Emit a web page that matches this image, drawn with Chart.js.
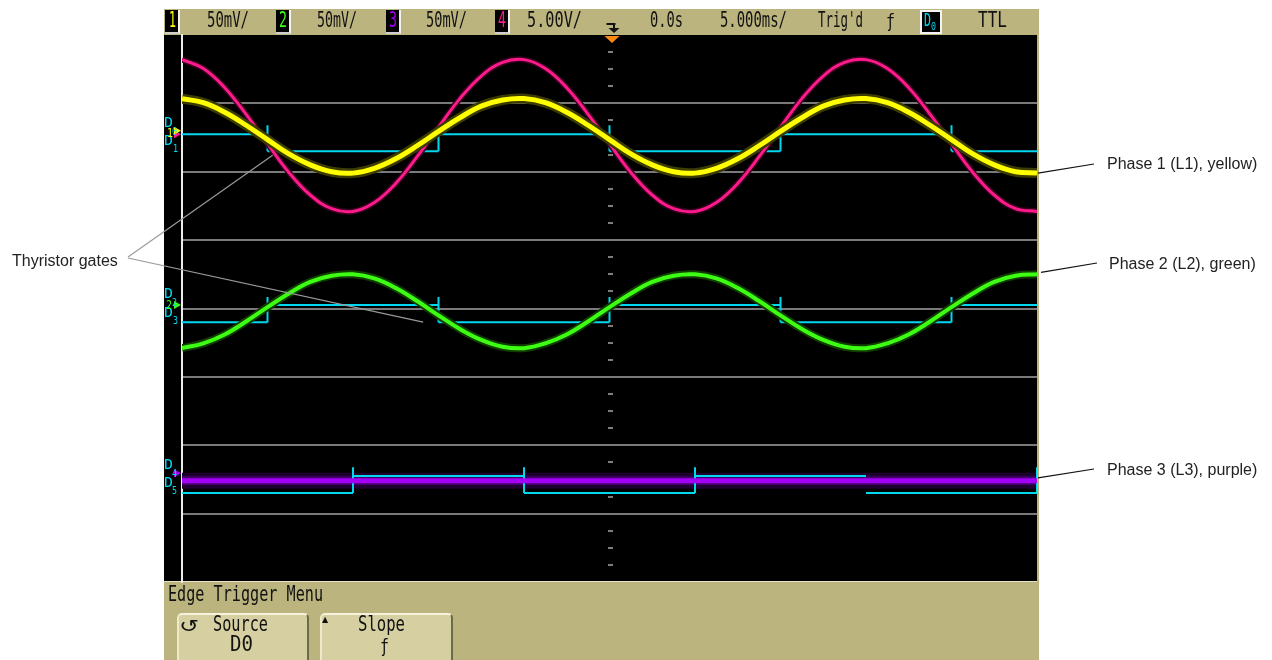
<!DOCTYPE html>
<html>
<head>
<meta charset="utf-8">
<title>Thyristor gates - scope capture</title>
<script src="https://cdn.jsdelivr.net/npm/chart.js@4.4.1/dist/chart.umd.min.js"></script>
<style>
  html, body { margin: 0; padding: 0; background: #fff; }
  #page { position: relative; width: 1272px; height: 660px; overflow: hidden; }
  .blk { position: absolute; }
  #frame { left: 164px; top: 9px; width: 875px; height: 651px; background: #bcb47f; }
  #screen { left: 164px; top: 35px; width: 873px; height: 546px; background: #000; }
  #menuLine { left: 164px; top: 581px; width: 873px; height: 1px; background: #e6e1c2; }
  .chip { position: absolute; top: 10px; width: 15px; height: 24px; background: #000; box-sizing: border-box;
          border-right: 2px solid #f2f2f2; border-bottom: 2px solid #cfcfcf; }
  .btn { position: absolute; top: 613px; height: 52px; background: #d6cfa1; box-sizing: border-box;
         border-top: 2px solid #f6f2dc; border-left: 2px solid #efe9cc; border-right: 2px solid #6e6948;
         border-radius: 5px 5px 0 0; }
  canvas { position: absolute; left: 0; top: 0; }
  .lcd { position: absolute; font-family: "DejaVu Sans Mono", monospace; white-space: nowrap; line-height: 1; color: #111; }
  .note { position: absolute; font-family: "Liberation Sans", Arial, sans-serif; font-size: 16px; line-height: 16px;
          color: #222; white-space: nowrap; }
</style>
</head>
<body>
<div id="page">
  <div id="frame" class="blk"></div>
  <div id="screen" class="blk"></div>
  <div id="menuLine" class="blk"></div>
  <div class="chip" style="left:165px"></div>
  <div class="chip" style="left:276px"></div>
  <div class="chip" style="left:386px"></div>
  <div class="chip" style="left:495px"></div>
  <div class="chip" style="left:920px;width:22px;border:2px solid #f4f4f4"></div>
  <div class="btn" style="left:177px;width:132px"></div>
  <div class="btn" style="left:320px;width:133px"></div>
  <canvas id="scope" width="1272" height="660"></canvas>
</div>
<script>
// time axis: 5 ms/div, 10 divisions, trigger at 0
var sampleTimes = [-25, -23.75, -22.5, -21.25, -20, -18.75, -17.5, -16.25, -15, -13.75, -12.5, -11.25,
  -10, -8.75, -7.5, -6.25, -5, -3.75, -2.5, -1.25, 0, 1.25, 2.5, 3.75, 5, 6.25, 7.5, 8.75,
  10, 11.25, 12.5, 13.75, 15, 16.25, 17.5, 18.75, 20, 21.25, 22.5, 23.75, 25]

// analog traces, in screen divisions (centre line = 0)
var ch1Yellow = [3.07, 3.01, 2.87, 2.68, 2.47, 2.26, 2.10, 2.00, 1.98, 2.05, 2.19, 2.38, 2.59, 2.79, 2.96, 3.05,
  3.07, 3.01, 2.87, 2.68, 2.47, 2.26, 2.10, 2.00, 1.98, 2.05, 2.19, 2.38, 2.59, 2.79, 2.96, 3.05,
  3.07, 3.01, 2.87, 2.68, 2.47, 2.26, 2.10, 2.00, 1.98]
var ch4Pink = [3.64, 3.51, 3.23, 2.84, 2.41, 1.99, 1.66, 1.46, 1.42, 1.55, 1.83, 2.22, 2.65, 3.07, 3.40, 3.60,
  3.64, 3.51, 3.23, 2.84, 2.41, 1.99, 1.66, 1.46, 1.42, 1.55, 1.83, 2.22, 2.65, 3.07, 3.40, 3.60,
  3.64, 3.51, 3.23, 2.84, 2.41, 1.99, 1.66, 1.46, 1.42]
var ch2Green = [-0.58, -0.51, -0.38, -0.19, 0.02, 0.22, 0.39, 0.48, 0.50, 0.44, 0.30, 0.11, -0.10, -0.30, -0.46, -0.56,
  -0.58, -0.51, -0.38, -0.19, 0.02, 0.22, 0.39, 0.48, 0.50, 0.44, 0.30, 0.11, -0.10, -0.30, -0.46, -0.56,
  -0.58, -0.51, -0.38, -0.19, 0.02, 0.22, 0.39, 0.48, 0.50]
var ch3Times = [-25, -12.5, 0, 12.5, 25]
var ch3Purple = [-2.52, -2.52, -2.52, -2.52, -2.52]

// digital gate channels: edge times (ms) and logic states between them
var gateEdgesA = [-25, -20, -10, 0, 10, 20, 25]
var gateD0 = [1, 0, 1, 0, 1, 0]
var gateD2 = [0, 1, 0, 1, 0, 1]
var gatePulsesA = [-20, -10, 0, 10, 20]
var gateEdgesB = [-25, -15, -5, 5, 15, 25]
var gateD4 = [0, 1, 0, 1, 0]
var gatePulsesB = [-15, -5, 5, 25]

// digital channel display levels (divisions): low, high, pulse top
var d0Level = [2.30, 2.55, 2.68]
var d2Level = [-0.20, 0.05, 0.17]
var d4Level = [-2.70, -2.45, -2.32]

// channel ground markers (divisions)
var markerLevels = { ch1: 2.60, ch4: 2.55, ch2: 0.05, ch3: -2.41 }

var page = document.getElementById('page')

function series(times, values) {
  return values.map(function(v, i) {
    return { x: times[i], y: v }
  })
}

function gateTrace(edges, states, pulses, level) {
  var pts = []
  states.forEach(function(s, i) {
    var y = s ? level[1] : level[0]
    pts.push({ x: edges[i], y: y }, { x: edges[i + 1], y: y }, { x: edges[i + 1], y: null })
  })
  pulses.forEach(function(t) {
    pts.push({ x: t, y: level[0] }, { x: t, y: level[2] }, { x: t, y: null })
  })
  return pts
}

function trace(label, data, color, width, order, tension) {
  return {
    label: label,
    data: data,
    borderColor: color,
    borderWidth: width,
    order: order,
    tension: tension,
    spanGaps: false,
    fill: false
  }
}

// decorations: centre graticule ticks, trigger markers, ground markers, callout lines
var scopeDecor = {
  id: 'scopeDecor',
  beforeDatasetsDraw: function(chart) {
    var ctx = chart.ctx, xs = chart.scales.x, ys = chart.scales.y
    var x0 = xs.getPixelForValue(0)
    ctx.save()
    ctx.fillStyle = '#7d7d7d'
    for (var v = -3.75; v < 4; v += 0.25) {
      if (v % 1 === 0) continue
      ctx.fillRect(Math.round(x0) - 2, Math.round(ys.getPixelForValue(v)) - 1, 5, 2)
    }
    ctx.restore()
  },
  afterDraw: function(chart) {
    var ctx = chart.ctx, xs = chart.scales.x, ys = chart.scales.y
    var x0 = xs.getPixelForValue(0)
    var xr = xs.getPixelForValue(25)
    ctx.save()

    // orange trigger-position marker
    ctx.fillStyle = '#ff8a12'
    ctx.beginPath()
    ctx.moveTo(x0 - 5, 36)
    ctx.lineTo(x0 + 10, 36)
    ctx.lineTo(x0 + 2.5, 43)
    ctx.closePath()
    ctx.fill()

    // trigger icon in the status bar
    ctx.fillStyle = '#111'
    ctx.fillRect(x0 - 3, 23, 9, 2)
    ctx.fillRect(x0 + 3.5, 23, 2, 8)
    ctx.beginPath()
    ctx.moveTo(x0 - 1, 28)
    ctx.lineTo(x0 + 10, 28)
    ctx.lineTo(x0 + 4.5, 33)
    ctx.closePath()
    ctx.fill()

    // ground markers
    function marker(level, color) {
      var py = ys.getPixelForValue(level)
      ctx.fillStyle = color
      ctx.beginPath()
      ctx.moveTo(174, py - 4)
      ctx.lineTo(174, py + 4)
      ctx.lineTo(181, py)
      ctx.closePath()
      ctx.fill()
    }
    marker(markerLevels.ch4, '#ff1a8c')
    marker(markerLevels.ch1, '#ffff00')
    marker(markerLevels.ch2, '#3cff14')
    marker(markerLevels.ch3, '#a300f5')

    // callouts
    ctx.lineWidth = 1.2
    ctx.strokeStyle = '#111'
    function line(ax, ay, bx, by) {
      ctx.beginPath()
      ctx.moveTo(ax, ay)
      ctx.lineTo(bx, by)
      ctx.stroke()
    }
    line(xr + 1, ys.getPixelForValue(ch1Yellow[ch1Yellow.length - 1]), 1094, 164)
    line(xr + 4, ys.getPixelForValue(ch2Green[ch2Green.length - 1]) - 2, 1097, 263)
    line(xr + 1, ys.getPixelForValue(ch3Purple[ch3Purple.length - 1]) - 3, 1094, 469)

    ctx.strokeStyle = '#9a9a9a'
    line(128, 257, xs.getPixelForValue(-19.7), ys.getPixelForValue(2.24))
    line(128, 258, xs.getPixelForValue(-10.9), ys.getPixelForValue(-0.2))
    ctx.restore()
  }
}

new Chart(document.getElementById('scope'), {
  type: 'line',
  data: {
    datasets: [
      trace('Ch1', series(sampleTimes, ch1Yellow), '#ffff00', 5, 0, 0.4),
      trace('Ch1 noise', series(sampleTimes, ch1Yellow), '#3c3c00', 10, 1, 0.4),
      trace('Ch4', series(sampleTimes, ch4Pink), '#ff1a8c', 3, 2, 0.4),
      trace('Ch4 noise', series(sampleTimes, ch4Pink), '#3a001f', 6, 3, 0.4),
      trace('Ch2', series(sampleTimes, ch2Green), '#3cff14', 4, 4, 0.4),
      trace('Ch2 noise', series(sampleTimes, ch2Green), '#113d00', 8, 5, 0.4),
      trace('Ch3', series(ch3Times, ch3Purple), '#a300f5', 5, 6, 0),
      trace('D0/D1', gateTrace(gateEdgesA, gateD0, gatePulsesA, d0Level), '#00d8f0', 2, 7, 0),
      trace('D2/D3', gateTrace(gateEdgesA, gateD2, gatePulsesA, d2Level), '#00d8f0', 2, 7, 0),
      trace('D4/D5', gateTrace(gateEdgesB, gateD4, gatePulsesB, d4Level), '#00d8f0', 2, 7, 0),
      trace('Ch3 noise', series(ch3Times, ch3Purple), '#43006a', 9, 8, 0),
      trace('Ch3 noise wide', series(ch3Times, ch3Purple), '#1e002e', 16, 9, 0)
    ]
  },
  options: {
    responsive: false,
    animation: false,
    devicePixelRatio: 1,
    layout: { padding: { left: 182, top: 35, right: 235, bottom: 78 } },
    plugins: { legend: { display: false }, tooltip: { enabled: false } },
    elements: { point: { radius: 0 } },
    scales: {
      x: { type: 'linear', min: -25, max: 25, display: false },
      y: {
        min: -4,
        max: 4,
        ticks: { display: false, stepSize: 1 },
        grid: {
          drawTicks: false,
          lineWidth: 2,
          color: function(c) {
            return Math.abs(c.tick.value) === 4 ? 'rgba(0,0,0,0)' : '#7a7a7a'
          }
        },
        border: { display: true, color: '#ececec', width: 2 }
      }
    }
  },
  plugins: [scopeDecor]
})

// texts: scope readouts, menu, labels
function addText(text, left, base, fs, opts) {
  opts = opts || {}
  var el = document.createElement('div')
  el.className = opts.cls || 'lcd'
  el.textContent = text
  el.style.fontSize = fs + 'px'
  el.style.left = left + 'px'
  el.style.top = (base - fs * 0.846) + 'px'
  if (opts.color) el.style.color = opts.color
  if (opts.family) el.style.fontFamily = opts.family
  page.appendChild(el)
  if (opts.width) {
    var w = el.getBoundingClientRect().width
    el.style.transformOrigin = '0 0'
    el.style.transform = 'scaleX(' + (opts.width / w) + ')'
  }
  return el
}

// status bar
addText('1', 169, 27.7, 21, { color: '#ffff00', width: 7 })
addText('50mV/', 207, 27.7, 21, { width: 42 })
addText('2', 279, 27.7, 21, { color: '#3cff14', width: 8 })
addText('50mV/', 317, 27.7, 21, { width: 40 })
addText('3', 389, 27.7, 21, { color: '#a300f5', width: 8 })
addText('50mV/', 426, 27.7, 21, { width: 41 })
addText('4', 498, 27.7, 21, { color: '#ff1a8c', width: 8 })
addText('5.00V/', 527, 27.7, 21, { width: 55 })
addText('0.0s', 650, 27.7, 21, { width: 33 })
addText('5.000ms/', 720, 27.7, 21, { width: 67 })
addText("Trig'd", 818, 27.7, 21, { width: 45 })
addText('ƒ', 886, 27.7, 18, { width: 9 })
addText('D', 924, 26, 17, { color: '#00d8f0', width: 7 })
addText('0', 931, 30, 11, { color: '#00d8f0', width: 5 })
addText('TTL', 978, 27.7, 21, { width: 29 })

// softkey menu
addText('Edge Trigger Menu', 168, 602, 21, { width: 155 })
addText('↺', 179, 632, 18, { family: '"DejaVu Sans", sans-serif', width: 20 })
addText('Source', 213, 632, 21, { width: 55 })
addText('D0', 230, 652, 21, { width: 23 })
addText('▲', 322, 623, 8, { family: '"DejaVu Sans", sans-serif' })
addText('Slope', 358, 632, 21, { width: 47 })
addText('ƒ', 380, 652, 18, { width: 9 })

// channel labels at the left edge
var cyan = '#00d8f0'
addText('D', 164, 127, 14, { color: cyan, width: 9 })
addText('0', 172, 135, 11, { color: cyan, width: 5 })
addText('D', 164, 145, 14, { color: cyan, width: 9 })
addText('1', 173, 152, 11, { color: cyan, width: 5 })
addText('1', 167, 137, 13, { color: '#ffff00', width: 6 })
addText('D', 164, 298, 14, { color: cyan, width: 9 })
addText('2', 172, 306, 11, { color: cyan, width: 5 })
addText('D', 164, 317, 14, { color: cyan, width: 9 })
addText('3', 173, 324, 11, { color: cyan, width: 5 })
addText('2', 166, 309, 12, { color: '#3cff14', width: 6 })
addText('D', 164, 469, 14, { color: cyan, width: 9 })
addText('4', 172, 477, 11, { color: cyan, width: 5 })
addText('D', 164, 487, 14, { color: cyan, width: 9 })
addText('5', 172, 494, 11, { color: cyan, width: 5 })

// annotations outside the screen
function note(text, left, top) {
  var el = document.createElement('div')
  el.className = 'note'
  el.textContent = text
  el.style.left = left + 'px'
  el.style.top = top + 'px'
  page.appendChild(el)
}
note('Phase 1 (L1), yellow)', 1107, 155.5)
note('Phase 2 (L2), green)', 1109, 255.5)
note('Phase 3 (L3), purple)', 1107, 461.5)
note('Thyristor gates', 12, 252.5)
</script>
</body>
</html>
